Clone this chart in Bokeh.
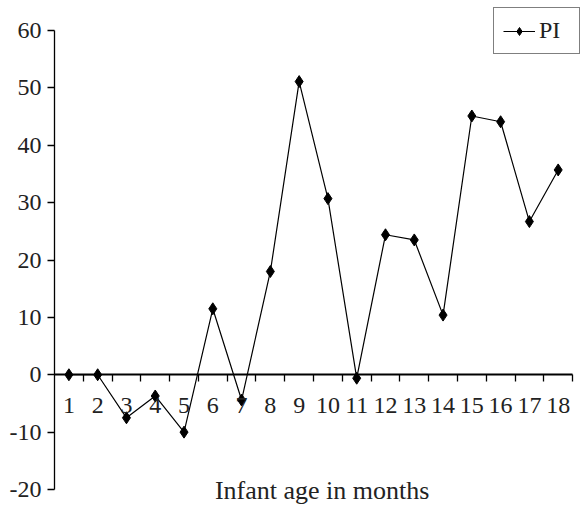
from bokeh.plotting import figure
from bokeh.models import (Range1d, FixedTicker, LinearAxis, Label, Legend, LegendItem)
from bokeh.embed import file_html
from bokeh.resources import INLINE

months = list(range(1, 19))
pi_values = [0, 0, -7.5, -3.7, -10.0, 11.5, -4.4, 18.0, 51.1, 30.7,
             -0.6, 24.4, 23.5, 10.4, 45.1, 44.1, 26.7, 35.7]
y_ticks = [-20, -10, 0, 10, 20, 30, 40, 50, 60]
y_tick_labels = ["-20", "-10", "0", "10", "20", "30", "40", "50", "60"]
x_label = "Infant age in months"
series_name = "PI"

FONT = "Liberation Serif"
TXT = "#222222"

W, H = 581, 506
# frame spans the whole canvas; axes are limited with bounds
p = figure(width=W, height=H, output_backend="svg", toolbar_location=None,
           x_range=Range1d(0.5, 18.81), y_range=Range1d(-22.96, 65.23),
           x_axis_location=None, y_axis_location=None,
           min_border_left=54, min_border_top=0, min_border_bottom=0,
           min_border_right=0)
p.grid.visible = False
p.outline_line_color = None
p.background_fill_color = "white"

yax = LinearAxis(ticker=FixedTicker(ticks=y_ticks), bounds=(-20, 60))
yax.major_label_overrides = {t: s for t, s in zip(y_ticks, y_tick_labels)}
yax.axis_line_color = "black"
yax.axis_line_width = 1.3
yax.major_tick_line_color = "black"
yax.major_tick_line_width = 1.3
yax.major_tick_in = 0
yax.major_tick_out = 7
yax.minor_tick_line_color = None
yax.major_label_text_font = FONT
yax.major_label_text_font_size = "24px"
yax.major_label_text_color = TXT
yax.major_label_standoff = 6
p.add_layout(yax, "left")

xax = LinearAxis(ticker=FixedTicker(ticks=[m + 0.5 for m in months]),
                 fixed_location=0, bounds=(0.5, 18.5))
xax.axis_line_color = "black"
xax.axis_line_width = 1.8
xax.major_tick_line_color = "black"
xax.major_tick_line_width = 1.3
xax.major_tick_in = 0
xax.major_tick_out = 7
xax.minor_tick_line_color = None
xax.major_label_text_alpha = 0
xax.major_label_text_font_size = "1px"
p.add_layout(xax, "below")

xlab = LinearAxis(ticker=FixedTicker(ticks=months), fixed_location=0)
xlab.axis_line_color = None
xlab.major_tick_line_color = None
xlab.minor_tick_line_color = None
xlab.major_tick_out = 0
xlab.major_tick_in = 0
xlab.major_label_text_font = FONT
xlab.major_label_text_font_size = "24px"
xlab.major_label_text_color = TXT
xlab.major_label_standoff = 23
p.add_layout(xlab, "below")

r_line = p.line(months, pi_values, line_color="black", line_width=1.2)
r_mark = p.scatter(months, pi_values, marker="diamond", size=12,
                   fill_color="black", line_color="black")

p.add_layout(Label(x=9.8, y=-20.17, text=x_label, text_font=FONT,
                   text_font_size="26px", text_color=TXT,
                   text_align="center", text_baseline="alphabetic"))

legend = Legend(items=[LegendItem(label=series_name, renderers=[r_line, r_mark])],
                location=(439, H - 8 - 46))
legend.border_line_color = "black"
legend.border_line_width = 1.2
legend.label_text_font = FONT
legend.label_text_font_size = "24px"
legend.label_text_color = TXT
legend.glyph_width = 32
legend.glyph_height = 20
legend.label_standoff = 4
legend.label_width = 31
legend.padding = 9
legend.margin = 0
legend.spacing = 0
legend.background_fill_color = "white"
legend.background_fill_alpha = 1
p.add_layout(legend, "center")

open("out.html", "w").write(file_html(p, INLINE))
